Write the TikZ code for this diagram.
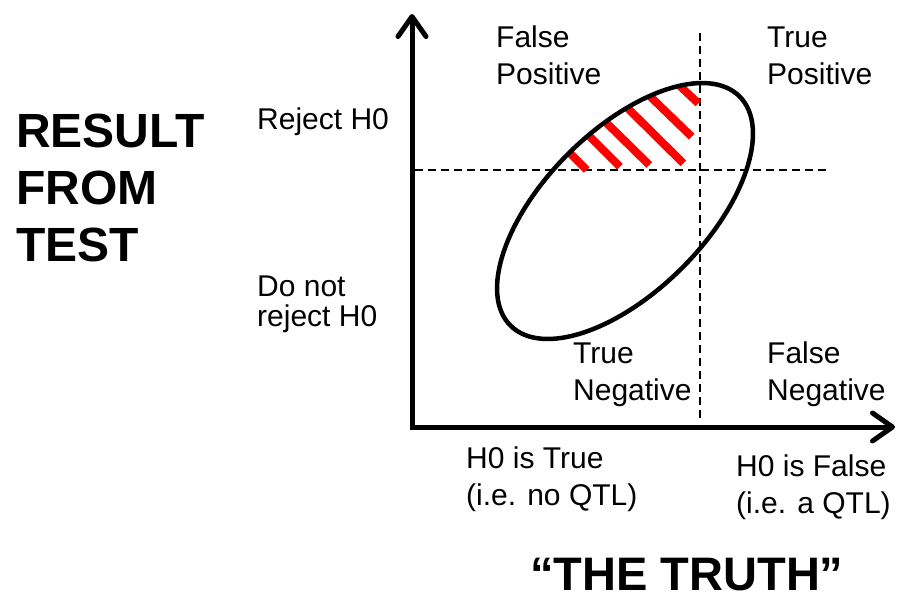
\documentclass[tikz,border=0pt]{standalone}
\usepackage{fontspec}
\setmainfont{Liberation Sans}
\usetikzlibrary{arrows.meta}
\begin{document}
\begin{tikzpicture}[x=1pt,y=1pt,
  axis/.style={line width=5pt, line join=miter,
    {Straight Barb[length=20pt,width=28pt,round]}-{Straight Barb[length=20pt,width=28pt,round]}},
  guide/.style={line width=1.8pt, dash pattern=on 8pt off 5pt},
  lbl/.style={anchor=base west, inner sep=0pt, font=\fontsize{30}{37}\selectfont},
  big/.style={anchor=base west, inner sep=0pt, font=\fontsize{48}{57}\selectfont\bfseries},
  hatch/.style={red, line width=8pt},
  oval/.style={line width=4.5pt}]
\useasboundingbox (0,0) rectangle (899,-596);
% axes
\coordinate (O) at (412,-427);
\coordinate (ytop) at (412,-14);
\coordinate (xend) at (895,-427);
\draw[axis] (ytop) -- (O) -- (xend);
% dashed guides
\coordinate (hL) at (415,-170);
\coordinate (hR) at (827,-170);
\coordinate (vT) at (700,-33);
\coordinate (vB) at (700,-420);
\draw[guide] (hL) -- (hR);
\draw[guide] (vT) -- (vB);
% ellipse and hatch
\coordinate (E) at (625,-211);
\begin{scope}
  \clip[rotate around={45:(E)}] (E) ellipse [x radius=162, y radius=80.6];
  \draw[hatch] (561.7,-145) -- (586.7,-170);
  \draw[hatch] (579.3,-126) -- (620,-166.7);
  \draw[hatch] (594,-110.7) -- (649.3,-165);
  \draw[hatch] (616.7,-97.3) -- (683.3,-163.3);
  \draw[hatch] (641.7,-88.3) -- (691.7,-136.7);
  \draw[hatch] (671.7,-78.3) -- (698.3,-103.3);
\end{scope}
\draw[oval, rotate around={45:(E)}] (E) ellipse [x radius=162, y radius=80.6];
% labels
\node[big] (result) at (16,-148) {\begin{tabular}[t]{@{}l@{}}RESULT\\FROM\\TEST\end{tabular}};
\node[lbl] (rej) at (257,-130) {Reject H0};
\node[lbl, font=\fontsize{30}{30}\selectfont] (norej) at (257,-296) {\begin{tabular}[t]{@{}l@{}}Do not\\reject H0\end{tabular}};
\node[lbl] (fp) at (496,-48) {\begin{tabular}[t]{@{}l@{}}False\\Positive\end{tabular}};
\node[lbl] (tp) at (767,-48) {\begin{tabular}[t]{@{}l@{}}True\\Positive\end{tabular}};
\node[lbl] (tn) at (573,-363) {\begin{tabular}[t]{@{}l@{}}True\\Negative\end{tabular}};
\node[lbl] (fn) at (767,-363) {\begin{tabular}[t]{@{}l@{}}False\\Negative\end{tabular}};
\node[lbl] (htrue) at (466,-468) {\begin{tabular}[t]{@{}l@{}}H0 is True\\(i.e. no QTL)\end{tabular}};
\node[lbl] (hfalse) at (736,-476) {\begin{tabular}[t]{@{}l@{}}H0 is False\\(i.e. a QTL)\end{tabular}};
\node[big, font=\fontsize{47}{57}\selectfont\bfseries] (truth) at (530,-590) {“THE TRUTH”};
\end{tikzpicture}
\end{document}
